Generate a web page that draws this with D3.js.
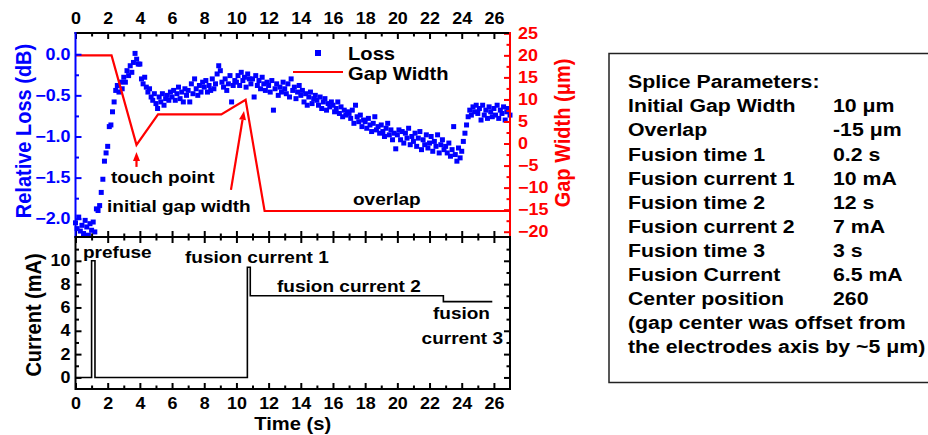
<!DOCTYPE html>
<html lang="en">

<head>
  <meta charset="utf-8" />
  <title>Splice loss, gap width and arc current</title>
  <script src="https://d3js.org/d3.v7.min.js"></script>
  <style>
    body {
      margin: 0;
      background: #ffffff;
    }

    text {
      font-family: "Liberation Sans", Arial, sans-serif;
      font-weight: bold;
    }
  </style>
</head>

<body>
  <svg width="928" height="435"></svg>

  <script>
    // ---- data ----
    const timeTicks = [0, 2, 4, 6, 8, 10, 12, 14, 16, 18, 20, 22, 24, 26];
    const timeMinor = [1, 3, 5, 7, 9, 11, 13, 15, 17, 19, 21, 23, 25];
    const lossTicks = [0, -0.5, -1, -1.5, -2];
    const lossMinor = [-0.25, -0.75, -1.25, -1.75];
    const gapTicks = [25, 20, 15, 10, 5, 0, -5, -10, -15, -20];
    const gapMinor = [22.5, 17.5, 12.5, 7.5, 2.5, -2.5, -7.5, -12.5, -17.5];
    const currentTicks = [0, 2, 4, 6, 8, 10];
    const currentMinor = [1, 3, 5, 7, 9, 11];

    // relative loss (dB), one reading every 0.1 s from t = 0
    const lossStep = 0.1;
    const lossValues = [
      -2.05, -2.12, -1.98, -2.15, -2.08, -2.18, -2.02, -2.10, -2.20, -2.06,
      -2.14, -2.04, -2.16, -1.88, -1.90, -1.84, -1.68, -1.52, -1.30, -1.20,
      -1.12, -0.88, -0.86, -0.70, -0.58, -0.44, -0.38, -0.46, -0.34, -0.42,
      -0.28, -0.34, -0.20, -0.26, -0.14, -0.22, -0.10, 0.01, -0.06, -0.12,
      -0.12, -0.30, -0.36, -0.28, -0.40, -0.46, -0.42, -0.52, -0.56, -0.48,
      -0.60, -0.66, -0.52, -0.58, -0.48, -0.62, -0.54, -0.50, -0.56, -0.46,
      -0.52, -0.44, -0.56, -0.48, -0.40, -0.54, -0.46, -0.58, -0.42, -0.50,
      -0.44, -0.58, -0.36, -0.48, -0.30, -0.42, -0.50, -0.38, -0.46, -0.34,
      -0.40, -0.32, -0.46, -0.38, -0.44, -0.30, -0.42, -0.36, -0.24, -0.14,
      -0.20, -0.34, -0.40, -0.30, -0.44, -0.36, -0.26, -0.58, -0.38, -0.32,
      -0.34, -0.26, -0.38, -0.22, -0.32, -0.28, -0.40, -0.24, -0.30, -0.36,
      -0.30, -0.52, -0.26, -0.38, -0.32, -0.42, -0.28, -0.36, -0.44, -0.34,
      -0.38, -0.46, -0.32, -0.68, -0.42, -0.36, -0.50, -0.40, -0.46, -0.34,
      -0.42, -0.48, -0.36, -0.52, -0.30, -0.44, -0.40, -0.54, -0.46, -0.38,
      -0.50, -0.44, -0.58, -0.48, -0.62, -0.52, -0.46, -0.60, -0.54, -0.50,
      -0.56, -0.62, -0.52, -0.66, -0.58, -0.54, -0.68, -0.60, -0.64, -0.58,
      -0.62, -0.70, -0.66, -0.58, -0.72, -0.64, -0.76, -0.68, -0.74, -0.70,
      -0.72, -0.78, -0.68, -0.84, -0.62, -0.76, -0.82, -0.74, -0.88, -0.80,
      -0.82, -0.90, -0.78, -0.86, -0.94, -0.84, -0.76, -0.92, -0.88, -0.96,
      -0.86, -0.94, -1.00, -0.90, -0.84, -0.98, -0.92, -1.04, -0.96, -1.15,
      -0.98, -0.92, -1.04, -0.94, -1.08, -0.96, -1.02, -0.90, -1.10, -1.00,
      -1.06, -0.96, -1.12, -1.02, -0.94, -1.16, -1.04, -1.10, -0.98, -1.14,
      -1.08, -1.00, -1.18, -1.06, -1.12, -0.98, -1.20, -1.10, -1.04, -1.16,
      -1.12, -1.20, -1.08, -1.24, -1.16, -0.88, -1.22, -1.30, -1.14, -1.26,
      -1.18, -1.06, -0.96, -0.86, -0.76, -0.68, -0.74, -0.64, -0.70, -0.62,
      -0.72, -0.66, -0.80, -0.62, -0.74, -0.68, -0.78, -0.64, -0.70, -0.76,
      -0.66, -0.74, -0.62, -0.78, -0.68, -0.72, -0.64, -0.80, -0.70, -0.66,
      -0.74
    ];

    // gap width (um), corners of the red trace
    const gapTimes = [0, 2.24, 3.79, 5.13, 9.06, 10.57, 11.75, 27];
    const gapValues = [20, 20, -0.3, 6.6, 6.6, 9.9, -15.3, -15.3];

    // arc current (mA), step corners
    const currentTimes = [0, 1.0, 1.0, 1.21, 1.21, 10.68, 10.68, 10.86, 10.86, 22.86, 22.86, 25.9];
    const currentValues = [0, 0, 10, 10, 0, 0, 9.45, 9.45, 7, 7, 6.5, 6.5];

    const paramTitle = "Splice Parameters:";
    const paramNames = ["Initial Gap Width", "Overlap", "Fusion time 1", "Fusion current 1",
      "Fusion time 2", "Fusion current 2", "Fusion time 3", "Fusion Current", "Center position"];
    const paramValues = ["10 μm", "-15 μm", "0.2 s", "10 mA", "12 s", "7 mA", "3 s", "6.5 mA", "260"];
    const paramNote = ["(gap center was offset from", "the electrodes axis by ~5 μm)"];

    // ---- layout ----
    const svg = d3.select("svg");
    const SX = 1.12; // lettering in the source is slightly widened
    const plotL = 75.5, plotR = 510, topT = 33, mid = 237, botB = 389;
    const BLUE = "#0000ff", RED = "#ff0000";

    const x = d3.scaleLinear().domain([0, 27]).range([plotL, plotR]);
    const yLoss = d3.scaleLinear().domain([-2.222, 0.258]).range([mid, topT]);
    const yGap = d3.scaleLinear().domain([-21.2, 25.07]).range([mid, topT]);
    const yCur = d3.scaleLinear().domain([-0.99, 12.04]).range([botB, mid]);

    function stretch(sel) {
      sel.attr("transform", function () {
        const t = d3.select(this);
        const px = +t.attr("x") || 0, py = +t.attr("y") || 0;
        return `translate(${px},${py}) scale(${SX},1) translate(${-px},${-py})`;
      });
    }

    function addAxis(axis, tx, ty, color, size) {
      const g = svg.append("g")
        .attr("transform", `translate(${tx},${ty})`)
        .call(axis);
      g.select(".domain").remove();
      g.style("color", color).attr("font-size", size).attr("font-family", null);
      g.selectAll("line").attr("stroke-width", 2);
      g.selectAll("text").call(stretch);
      return g;
    }

    // ---- loss points ----
    svg.append("g")
      .selectAll("rect")
      .data(lossValues)
      .join("rect")
      .attr("x", (d, i) => x(i * lossStep) - 2.5)
      .attr("y", d => yLoss(d) - 2.5)
      .attr("width", 5)
      .attr("height", 5)
      .attr("fill", BLUE);

    // ---- gap width trace ----
    const gapLine = d3.line().x(d => x(d[0])).y(d => yGap(d[1]));
    svg.append("path")
      .datum(d3.zip(gapTimes, gapValues))
      .attr("d", gapLine)
      .attr("fill", "none")
      .attr("stroke", RED)
      .attr("stroke-width", 2.2);

    // ---- current trace ----
    const curLine = d3.line().x(d => x(d[0])).y(d => yCur(d[1]));
    svg.append("path")
      .datum(d3.zip(currentTimes, currentValues))
      .attr("d", curLine)
      .attr("fill", "none")
      .attr("stroke", "#000")
      .attr("stroke-width", 1.6);

    // ---- axes ----
    const fmtInt = d3.format("d");
    addAxis(d3.axisTop(x).tickValues(timeTicks).tickSizeInner(-6).tickSizeOuter(0).tickPadding(9).tickFormat(fmtInt), 0, topT, "#000", 16);
    addAxis(d3.axisTop(x).tickValues(timeMinor).tickSizeInner(-3.5).tickSizeOuter(0).tickFormat(""), 0, topT, "#000", 16);
    addAxis(d3.axisBottom(x).tickValues(timeTicks).tickSizeInner(-6).tickSizeOuter(0).tickFormat(""), 0, mid, "#000", 16);
    addAxis(d3.axisBottom(x).tickValues(timeMinor).tickSizeInner(-3.5).tickSizeOuter(0).tickFormat(""), 0, mid, "#000", 16);
    addAxis(d3.axisTop(x).tickValues(timeTicks).tickSizeInner(-6).tickSizeOuter(0).tickFormat(""), 0, mid, "#000", 16);
    addAxis(d3.axisTop(x).tickValues(timeMinor).tickSizeInner(-3.5).tickSizeOuter(0).tickFormat(""), 0, mid, "#000", 16);
    addAxis(d3.axisBottom(x).tickValues(timeTicks).tickSizeInner(-6).tickSizeOuter(0).tickPadding(9).tickFormat(fmtInt), 0, botB, "#000", 16);
    addAxis(d3.axisBottom(x).tickValues(timeMinor).tickSizeInner(-3.5).tickSizeOuter(0).tickFormat(""), 0, botB, "#000", 16);

    addAxis(d3.axisLeft(yLoss).tickValues(lossTicks).tickSizeInner(-6).tickSizeOuter(0).tickPadding(5).tickFormat(d3.format(".1f")), plotL, 0, BLUE, 16);
    addAxis(d3.axisLeft(yLoss).tickValues(lossMinor).tickSizeInner(-3.5).tickSizeOuter(0).tickFormat(""), plotL, 0, BLUE, 16);
    addAxis(d3.axisRight(yGap).tickValues(gapTicks).tickSizeInner(-6).tickSizeOuter(0).tickPadding(8).tickFormat(fmtInt), plotR, 0, RED, 16);
    addAxis(d3.axisRight(yGap).tickValues(gapMinor).tickSizeInner(-3.5).tickSizeOuter(0).tickFormat(""), plotR, 0, RED, 16);

    addAxis(d3.axisLeft(yCur).tickValues(currentTicks).tickSizeInner(-6).tickSizeOuter(0).tickPadding(5).tickFormat(fmtInt), plotL, 0, "#000", 16);
    addAxis(d3.axisLeft(yCur).tickValues(currentMinor).tickSizeInner(-3.5).tickSizeOuter(0).tickFormat(""), plotL, 0, "#000", 16);
    addAxis(d3.axisRight(yCur).tickValues(currentTicks).tickSizeInner(-6).tickSizeOuter(0).tickFormat(""), plotR, 0, "#000", 16);
    addAxis(d3.axisRight(yCur).tickValues(currentMinor).tickSizeInner(-3.5).tickSizeOuter(0).tickFormat(""), plotR, 0, "#000", 16);

    // ---- frames ----
    const frame = svg.append("g").attr("stroke-width", 2).attr("stroke-linecap", "square");
    frame.append("line").attr("x1", plotL).attr("x2", plotR).attr("y1", topT).attr("y2", topT).attr("stroke", "#000");
    frame.append("line").attr("x1", plotL).attr("x2", plotR).attr("y1", mid).attr("y2", mid).attr("stroke", "#000");
    frame.append("line").attr("x1", plotL).attr("x2", plotL).attr("y1", topT).attr("y2", mid).attr("stroke", BLUE);
    frame.append("line").attr("x1", plotR).attr("x2", plotR).attr("y1", topT).attr("y2", mid).attr("stroke", RED);
    frame.append("rect").attr("x", plotL).attr("y", mid).attr("width", plotR - plotL).attr("height", botB - mid)
      .attr("fill", "none").attr("stroke", "#000");

    // ---- axis titles ----
    function vTitle(label, cx, cy, color) {
      svg.append("text")
        .attr("transform", `translate(${cx},${cy}) scale(${SX},1) rotate(-90)`)
        .attr("text-anchor", "middle")
        .attr("dy", "0.35em")
        .attr("font-size", 20)
        .attr("fill", color)
        .text(label);
    }
    vTitle("Relative Loss (dB)", 23, 131, BLUE);
    vTitle("Gap Width (μm)", 562, 133, RED);
    vTitle("Current (mA)", 33, 315, "#000");

    svg.append("text")
      .attr("x", (plotL + plotR) / 2).attr("y", 430)
      .attr("text-anchor", "middle").attr("font-size", 18)
      .text("Time (s)")
      .call(stretch);

    // ---- legend ----
    svg.append("rect").attr("x", 315).attr("y", 50).attr("width", 6).attr("height", 6).attr("fill", BLUE);
    svg.append("line").attr("x1", 293).attr("x2", 343).attr("y1", 72).attr("y2", 72)
      .attr("stroke", RED).attr("stroke-width", 2.2);
    svg.append("text").attr("x", 348).attr("y", 60).attr("font-size", 18).text("Loss").call(stretch);
    svg.append("text").attr("x", 348).attr("y", 80).attr("font-size", 18).text("Gap Width").call(stretch);

    // ---- annotations ----
    function arrow(t1, g1, t2, g2) {
      const x1 = x(t1), y1 = yGap(g1), x2 = x(t2), y2 = yGap(g2);
      const a = Math.atan2(y2 - y1, x2 - x1), len = 9, hw = 3.5;
      const bx = x2 - len * Math.cos(a), by = y2 - len * Math.sin(a);
      svg.append("line").attr("x1", x1).attr("y1", y1).attr("x2", bx).attr("y2", by)
        .attr("stroke", RED).attr("stroke-width", 2.2);
      svg.append("polygon")
        .attr("points", [
          [x2, y2],
          [bx + hw * Math.sin(a), by - hw * Math.cos(a)],
          [bx - hw * Math.sin(a), by + hw * Math.cos(a)]
        ].map(p => p.join(",")).join(" "))
        .attr("fill", RED);
    }
    arrow(3.79, -5.3, 3.79, -1.9);
    arrow(9.66, -10.5, 10.47, 7.4);

    const notes = [
      { text: "touch point", x: 111, y: 183, anchor: "start" },
      { text: "initial gap width", x: 107, y: 212, anchor: "start" },
      { text: "overlap", x: 353, y: 205, anchor: "start" },
      { text: "prefuse", x: 83, y: 258, anchor: "start" },
      { text: "fusion current 1", x: 185, y: 263, anchor: "start" },
      { text: "fusion current 2", x: 277, y: 292, anchor: "start" },
      { text: "fusion", x: 490, y: 319, anchor: "end" },
      { text: "current 3", x: 503, y: 344, anchor: "end" }
    ];
    svg.append("g")
      .selectAll("text")
      .data(notes)
      .join("text")
      .attr("x", d => d.x)
      .attr("y", d => d.y)
      .attr("text-anchor", d => d.anchor)
      .attr("font-size", 17)
      .attr("fill", "#000")
      .text(d => d.text)
      .call(stretch);

    // ---- parameter box ----
    svg.append("rect")
      .attr("x", 609).attr("y", 53.5).attr("width", 340).attr("height", 329)
      .attr("fill", "none").attr("stroke", "#222").attr("stroke-width", 1.5);

    const lineY = i => 88.3 + i * 24.1;
    const box = svg.append("g").attr("font-size", 19).attr("fill", "#000");
    box.append("text").attr("x", 628).attr("y", lineY(0)).text(paramTitle);
    paramNames.forEach((name, i) => {
      box.append("text").attr("x", 628).attr("y", lineY(i + 1)).text(name);
      box.append("text").attr("x", 833).attr("y", lineY(i + 1)).text(paramValues[i]);
    });
    paramNote.forEach((line, i) => {
      box.append("text").attr("x", 628).attr("y", lineY(paramNames.length + 1 + i)).text(line);
    });
    box.selectAll("text").call(stretch);
  </script>
</body>

</html>
